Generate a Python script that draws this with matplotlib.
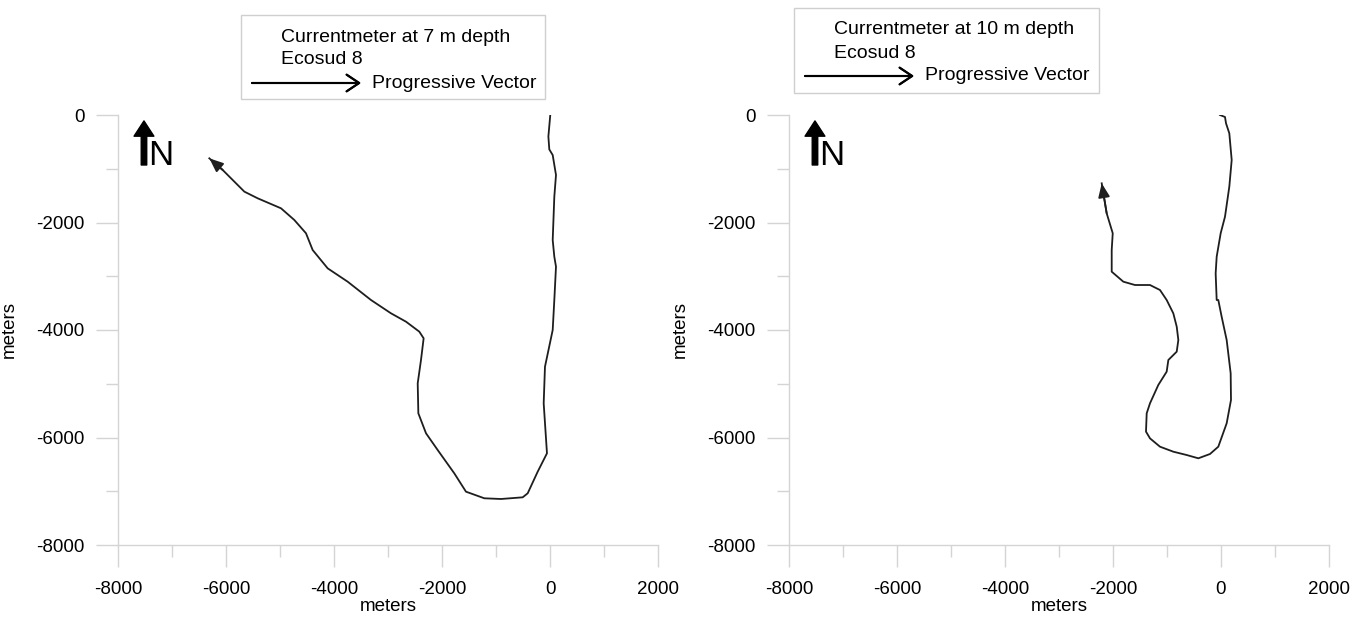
import matplotlib
matplotlib.use("Agg")
import matplotlib.pyplot as plt
from matplotlib.patches import Rectangle

plt.rcParams['font.family'] = ['Liberation Sans', 'DejaVu Sans']
plt.rcParams['axes.unicode_minus'] = False

# progressive vector tracks, metres east / north of the mooring
track7_x = [5, -30, -13, 50, 111, 80, 50, 80, 111, 80, 50, -93, -117, -56, -228, -413,
            -506, -907, -1216, -1556, -1772, -2080, -2296, -2438, -2450, -2389, -2340,
            -2420, -2667, -2944, -3315, -3747, -4117, -4395, -4519, -4735, -4981,
            -5413, -5660, -5876, -6061, -6309]
track7_y = [0, -400, -640, -745, -1116, -1520, -2326, -2636, -2822, -3442, -4000, -4683,
            -5364, -6294, -6636, -7038, -7113, -7144, -7131, -7008, -6667, -6233, -5922,
            -5550, -4992, -4558, -4155, -4031, -3845, -3690, -3442, -3101, -2853, -2512,
            -2200, -1953, -1736, -1550, -1426, -1209, -1023, -806]

track10_x = [-19, 74, 93, 154, 198, 154, 74, -6, -80, -99, -80, -50, 12, 105, 179, 185,
             105, -50, -204, -420, -635, -883, -1130, -1315, -1389, -1376, -1315, -1161,
             -1006, -975, -913, -820, -790, -820, -883, -1006, -1130, -1315, -1593,
             -1809, -2024, -2024, -2005, -2117, -2209]
track10_y = [0, -37, -155, -341, -837, -1333, -1892, -2200, -2636, -2946, -3442, -3442,
             -3752, -4186, -4806, -5302, -5736, -6171, -6307, -6387, -6326, -6264, -6171,
             -6016, -5891, -5550, -5364, -5023, -4775, -4558, -4496, -4403, -4186, -3938,
             -3690, -3442, -3256, -3163, -3163, -3101, -2915, -2512, -2200, -1829, -1271]

depths = ["7", "10"]
x_ticks = [-8000, -6000, -4000, -2000, 0, 2000]
y_ticks = [0, -2000, -4000, -6000, -8000]

W, H = 1358, 619
fig = plt.figure(figsize=(W / 100, H / 100), dpi=100)


def fx(px):
    return px / W


def fy(py):
    return 1 - py / H


axis_grey = '#d4d4d4'
line_col = '#1e1e1e'
panels = [(118, track7_x, track7_y, (241, 15, 545, 99)),
          (789, track10_x, track10_y, (794, 8, 1099, 93))]

for (left_px, tx, ty, box), depth in zip(panels, depths):
    ax = fig.add_axes([fx(left_px), fy(545), 540 / W, 430 / H])
    ax.plot(tx, ty, color=line_col, lw=1.3)
    ax.annotate('', xy=(tx[-1], ty[-1]), xytext=(tx[-2], ty[-2]),
                arrowprops=dict(arrowstyle='-|>,head_length=0.6,head_width=0.25',
                                color=line_col, lw=1.3, mutation_scale=14,
                                shrinkA=0, shrinkB=0))
    ax.set_xlim(-8000, 2000)
    ax.set_ylim(-8000, 0)
    ax.set_xticks(x_ticks)
    ax.set_yticks(y_ticks)
    ax.set_xticks(range(-7000, 2000, 2000), minor=True)
    ax.set_yticks(range(-7000, 0, 2000), minor=True)
    for s in ['top', 'right']:
        ax.spines[s].set_visible(False)
    for s in ['left', 'bottom']:
        ax.spines[s].set_color(axis_grey)
        ax.spines[s].set_linewidth(1)
    ax.tick_params(which='major', length=16, width=1, color=axis_grey,
                   labelsize=13.5, pad=8)
    ax.tick_params(which='minor', length=8.5, width=1, color=axis_grey)
    ax.tick_params(axis='x', which='major', pad=10)
    ax.set_xlabel('meters', fontsize=13.5, labelpad=0)
    ax.set_ylabel('meters', fontsize=13.5)
    ax.yaxis.set_label_coords(-0.185, 0.5)
    ax.patch.set_alpha(0)

    # north arrow
    ax.annotate('', xy=(-7519, -110), xytext=(-7519, -930),
                arrowprops=dict(arrowstyle='simple,head_length=0.5,head_width=0.65,tail_width=0.18',
                                color='black', mutation_scale=22, shrinkA=0, shrinkB=0))
    ax.text(-7440, -930, 'N', fontsize=25, ha='left', va='baseline')

    # legend box
    bx0, by0, bx1, by1 = box
    fig.patches.append(Rectangle((fx(bx0), fy(by1)), (bx1 - bx0) / W, (by1 - by0) / H,
                                 transform=fig.transFigure, fill=False,
                                 edgecolor='#cfcfcf', lw=1))
    fig.text(fx(bx0 + 40), fy(by0 + 22), 'Currentmeter at %s m depth' % depth,
             fontsize=14, va='center', ha='left')
    fig.text(fx(bx0 + 40), fy(by0 + 45), 'Ecosud 8', fontsize=14, va='center', ha='left')
    fig.text(fx(bx0 + 131), fy(by0 + 68), 'Progressive Vector', fontsize=14,
             va='center', ha='left')
    fig.add_artist(plt.annotate('', xy=(fx(bx0 + 120), fy(by0 + 68)),
                                xytext=(fx(bx0 + 11), fy(by0 + 68)),
                                xycoords='figure fraction', textcoords='figure fraction',
                                arrowprops=dict(arrowstyle='->,head_length=0.45,head_width=0.3',
                                                color='black', lw=1.5, mutation_scale=20,
                                                shrinkA=0, shrinkB=0)))

plt.savefig('out.png', dpi=100)
